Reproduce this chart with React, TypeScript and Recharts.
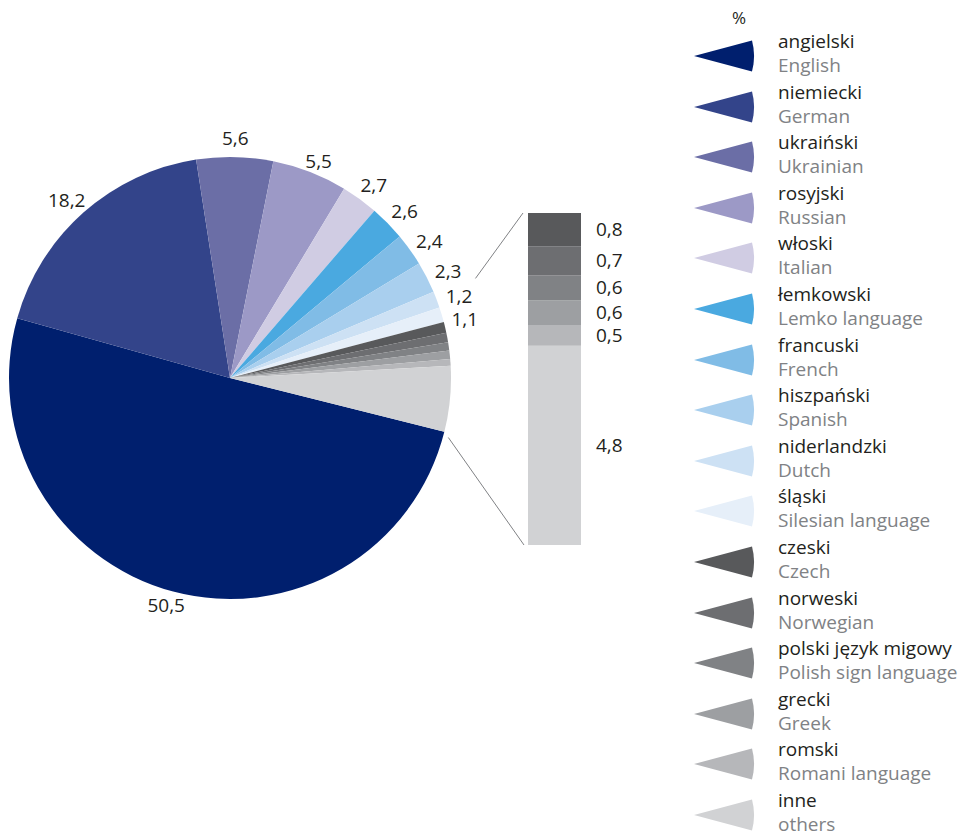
import React from "react";
import { PieChart, Pie, Cell, BarChart, Bar, XAxis, YAxis, LabelList, Legend } from "recharts";

// languages, Polish / English names
const polishNames = [
  "angielski", "niemiecki", "ukraiński", "rosyjski", "włoski", "łemkowski", "francuski", "hiszpański",
  "niderlandzki", "śląski", "czeski", "norweski", "polski język migowy", "grecki", "romski", "inne",
];
const englishNames = [
  "English", "German", "Ukrainian", "Russian", "Italian", "Lemko language", "French", "Spanish",
  "Dutch", "Silesian language", "Czech", "Norwegian", "Polish sign language", "Greek", "Romani language", "others",
];
// share in %
const shares = [50.5, 18.2, 5.6, 5.5, 2.7, 2.6, 2.4, 2.3, 1.2, 1.1, 0.8, 0.7, 0.6, 0.6, 0.5, 4.8];
const colors = [
  "#001f6e", "#33448a", "#6b6ea6", "#9c99c6", "#d0cce3", "#4aa9e0", "#80bce6", "#a9cfee",
  "#cde1f4", "#e6eff9", "#58595b", "#6d6e71", "#808285", "#9d9fa2", "#b6b7ba", "#d1d2d4",
];
// slices from this index on are broken out into the bar on the right
const detailFrom = 10;

const FONT = "'Open Sans', sans-serif";
const FS = 19;
const CX = 230;
const CY = 378;
const R = 221;
const START = -14.1;
const BAR = { left: 528, top: 213, width: 53, height: 332 };

const pieData = shares.map((v, i) => ({ pl: polishNames[i], en: englishNames[i], value: v }));
const detailNames = polishNames.slice(detailFrom);
const detailRow: Record<string, number | string> = { name: "detal" };
detailNames.forEach((n, i) => (detailRow[n] = shares[detailFrom + i]));
// bottom of the stack first
const stackOrder = detailNames.map((_, i) => detailFrom + i).reverse();

const fmt = (v: number) => v.toFixed(1).replace(".", ",");
const RAD = Math.PI / 180;
const total = shares.reduce((s, v) => s + v, 0);
const polar = (r: number, a: number) => [CX + r * Math.cos(-a * RAD), CY + r * Math.sin(-a * RAD)];

// outside labels: left-half labels end at the anchor, small ones pushed apart
const labelPos = (() => {
  const out: { x: number; y: number; anchor: string }[] = [];
  let cum = 0;
  let prevY = -Infinity;
  shares.forEach((v, i) => {
    const mid = START - ((cum + v / 2) / total) * 360;
    cum += v;
    let [x, y] = polar(R + 24, mid);
    y += y > CY ? -10 : 5;
    const anchor = x < CX + 5 ? "end" : "middle";
    if (anchor === "end") x += 18;
    if (anchor === "middle" && y < CY && y - prevY < 23) y = prevY + 23;
    if (anchor === "middle" && y < CY) prevY = y;
    out.push({ x, y, anchor });
  });
  return out;
})();

const renderPieLabel = (props: any) => {
  const { index, value } = props;
  if (index >= detailFrom) return null;
  const p = labelPos[index];
  return (
    <text x={p.x} y={p.y} textAnchor={p.anchor} dominantBaseline="central" fontSize={FS} fontFamily={FONT} fill="#231f20">
      {fmt(value)}
    </text>
  );
};

const Marker = ({ color }: { color: string }) => (
  <svg width={62} height={32} style={{ display: "block" }}>
    <path d="M1 16 L59 0.5 A60 60 0 0 1 59 31.5 Z" fill={color} />
  </svg>
);

const renderLegend = () => (
  <div style={{ fontFamily: FONT, position: "relative" }}>
    <div style={{ position: "absolute", left: 39, top: -20, fontSize: 17, color: "#231f20", lineHeight: "18px" }}>%</div>
    {pieData.map((d, i) => (
      <div key={d.pl} style={{ height: 50.6, display: "flex", alignItems: "flex-start" }}>
        <div style={{ marginTop: 11, width: 85 }}>
          <Marker color={colors[i]} />
        </div>
        <div style={{ fontSize: FS, lineHeight: "24px", whiteSpace: "nowrap" }}>
          <div style={{ color: "#231f20" }}>{d.pl}</div>
          <div style={{ color: "#808285" }}>{d.en}</div>
        </div>
      </div>
    ))}
  </div>
);

// connectors from the pie towards the bar corners
const detailStartAngle = START - (shares.slice(0, detailFrom).reduce((s, v) => s + v, 0) / total) * 360 + 360;
const upperEdge = polar(R, detailStartAngle);
const lowerEdge = polar(R, START);
const upperCorner = [BAR.left - 5, BAR.top];
const lowerCorner = [BAR.left - 4, BAR.top + BAR.height];
const towards = (from: number[], to: number[], f: number) => [from[0] + (to[0] - from[0]) * f, from[1] + (to[1] - from[1]) * f];
const upperEnd = towards(upperCorner, upperEdge, 0.6);
const lowerEnd = towards(lowerCorner, lowerEdge, 0.95);

export default function App() {
  return (
    <div style={{ position: "absolute", left: 0, top: 0, width: 962, height: 833, background: "#fff" }}>
      <PieChart width={962} height={833} margin={{ top: 0, right: 0, bottom: 0, left: 0 }}>
        <Pie
          data={pieData}
          dataKey="value"
          nameKey="pl"
          cx={CX}
          cy={CY}
          outerRadius={R}
          startAngle={START}
          endAngle={START - 360}
          stroke="none"
          label={renderPieLabel}
          labelLine={false}
          isAnimationActive={false}
        >
          {pieData.map((d, i) => (
            <Cell key={d.pl} fill={colors[i]} />
          ))}
        </Pie>
        <Legend
          layout="vertical"
          align="right"
          verticalAlign="top"
          content={renderLegend}
          wrapperStyle={{ left: 693, top: 29, width: 269 }}
        />
      </PieChart>

      <div style={{ position: "absolute", left: BAR.left, top: BAR.top }}>
        <BarChart
          width={BAR.width + 70}
          height={BAR.height}
          data={[detailRow]}
          margin={{ top: 0, right: 70, bottom: 0, left: 0 }}
          barCategoryGap={0}
        >
          <XAxis dataKey="name" hide />
          <YAxis hide domain={[0, "dataMax"]} />
          {stackOrder.map((idx) => (
            <Bar key={idx} dataKey={polishNames[idx]} stackId="a" fill={colors[idx]} isAnimationActive={false}>
              <LabelList
                dataKey={polishNames[idx]}
                position="right"
                offset={15}
                formatter={(v: any) => fmt(Number(v))}
                style={{ fontFamily: FONT, fontSize: FS, fill: "#231f20" }}
              />
            </Bar>
          ))}
        </BarChart>
      </div>

      <svg width={962} height={833} style={{ position: "absolute", left: 0, top: 0, pointerEvents: "none" }}>
        <line x1={upperCorner[0]} y1={upperCorner[1]} x2={upperEnd[0]} y2={upperEnd[1]} stroke="#808285" strokeWidth={1} />
        <line x1={lowerCorner[0]} y1={lowerCorner[1]} x2={lowerEnd[0]} y2={lowerEnd[1]} stroke="#808285" strokeWidth={1} />
      </svg>
    </div>
  );
}
